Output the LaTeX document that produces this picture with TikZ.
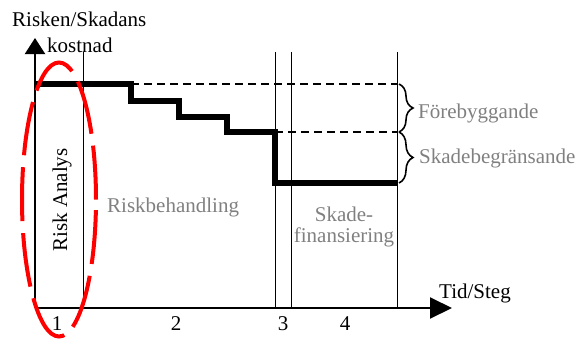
\documentclass[tikz,border=0pt]{standalone}
\usepackage{fontspec}
\setmainfont{Liberation Serif}
\usetikzlibrary{arrows.meta,decorations.pathreplacing}

\begin{document}
\begin{tikzpicture}[x=1pt,y=-1pt,
    every node/.style={font=\fontsize{21}{21}\selectfont, inner sep=0pt},
    axis/.style={line width=2pt},
    divider/.style={line width=1pt},
    costline/.style={line width=6pt, line join=miter},
    saving/.style={line width=2pt, dash pattern=on 8pt off 5pt},
    gain/.style={line width=1.6pt, decorate, decoration={brace, amplitude=14pt}},
    graytext/.style={text=gray}]
    \useasboundingbox (0,0) rectangle (578,338);

    % axes
    \coordinate (O) at (35,308);
    \coordinate (ytop) at (35,38);
    \coordinate (xend) at (452,308);
    \draw[axis, -{Triangle[length=16pt,width=20pt]}] (O) -- (ytop);
    \draw[axis, -{Triangle[length=22pt,width=21pt]}] (O) -- (xend);

    % step borders
    \draw[divider] (83,52) -- (83,308);
    \draw[divider] (275,52) -- (275,308);
    \draw[divider] (291,52) -- (291,308);
    \draw[divider] (397,52) -- (397,308);

    % cost curve
    \draw[saving] (131,84) -- (397,84);
    \draw[saving] (275,132) -- (397,132);
    \draw[costline] (35,84) -- (131,84) -- (131,101) -- (179,101) -- (179,117)
        -- (227,117) -- (227,132) -- (275,132) -- (275,183) -- (397,183);

    \draw[gain] (399,84) -- (399,132);
    \draw[gain] (399,132) -- (399,183);

    % labels
    \node[anchor=base west] (ylab) at (12,26) {Risken/Skadans};
    \node[anchor=base west] (ylab2) at (47,52) {kostnad};
    \node[anchor=base west] (xlab) at (439,298) {Tid/Steg};
    \node[anchor=base] (s1) at (57,330) {1};
    \node[anchor=base] (s2) at (176,330) {2};
    \node[anchor=base] (s3) at (283,330) {3};
    \node[anchor=base] (s4) at (345,330) {4};

    \node[rotate=90] (analys) at (62,200) {Risk Analys};
    \node[graytext, anchor=base west] (behand) at (107,212) {Riskbehandling};
    \node[graytext, align=center] (finans) at (344,227) {Skade-\\finansiering};
    \node[graytext, anchor=base west] (forebygg) at (418,118) {Förebyggande};
    \node[graytext, anchor=base west] (begrans) at (419,163) {Skadebegränsande};

    % risk analysis ring
    \draw[red, line width=4pt, dash pattern=on 54pt off 12pt]
        (59,199.5) ellipse [x radius=37pt, y radius=137pt];
\end{tikzpicture}
\end{document}
